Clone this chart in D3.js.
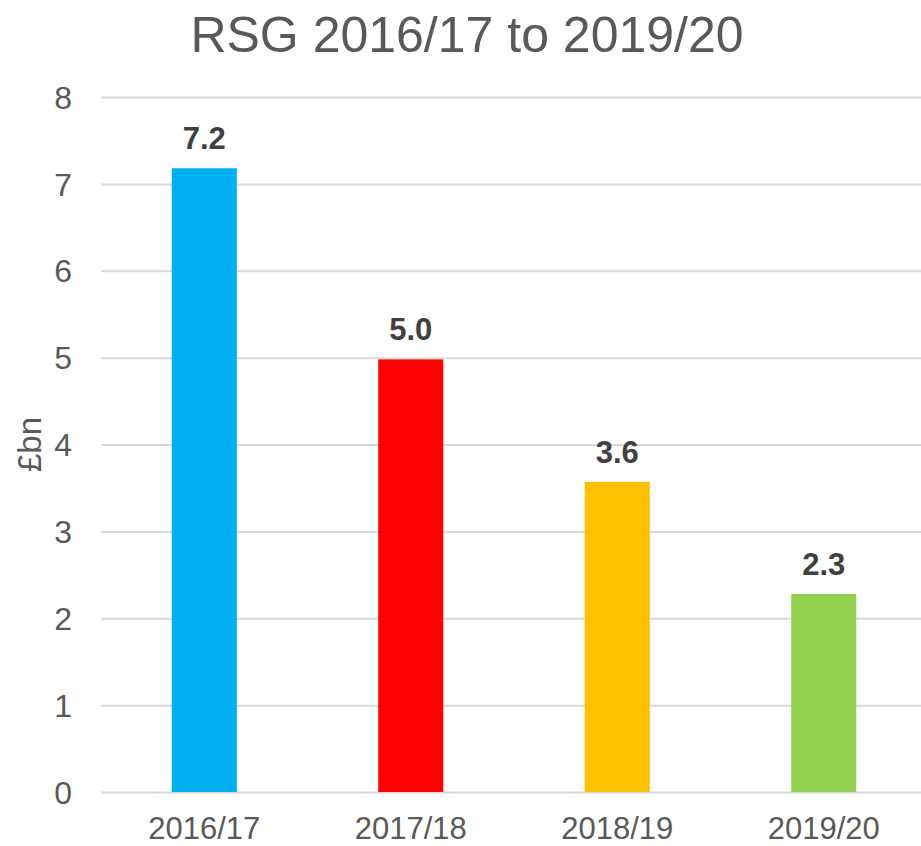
<!DOCTYPE html>
<html>
<head>
<meta charset="utf-8">
<script src="https://cdn.jsdelivr.net/npm/d3@7"></script>
<style>
  body { margin: 0; background: #fff; }
  svg text { font-family: "Liberation Sans", Arial, sans-serif; }
</style>
</head>
<body>
<div id="chart"></div>
<script>
var width = 921, height = 846;

// data
var years = ["2016/17", "2017/18", "2018/19", "2019/20"];
var rsg = [7.18, 4.98, 3.57, 2.28];
var labels = ["7.2", "5.0", "3.6", "2.3"];
var colours = ["#00B0F0", "#FF0000", "#FFC000", "#92D050"];
var yTicks = [0, 1, 2, 3, 4, 5, 6, 7, 8];

var svg = d3.select("#chart").append("svg")
    .attr("width", width).attr("height", height);

// plot area (right edge runs a bit past the picture like the original)
var plotLeft = 101, plotRight = 927, plotTop = 97, plotBottom = 792;

var x = d3.scaleBand()
    .domain(years)
    .range([plotLeft, plotRight])
    .paddingInner(0.685)
    .paddingOuter(0.3425);

var y = d3.scaleLinear()
    .domain([0, 8])
    .range([plotBottom, plotTop]);

// title
svg.append("text")
    .attr("x", 467).attr("y", 52)
    .attr("text-anchor", "middle")
    .style("font-size", "50px")
    .style("fill", "#595959")
    .text("RSG 2016/17 to 2019/20");

// gridlines + y tick labels
var yAxis = d3.axisLeft(y)
    .tickValues(yTicks)
    .tickSize(-(plotRight - plotLeft))
    .tickPadding(29)
    .tickFormat(d3.format("d"));

var gy = svg.append("g")
    .attr("transform", "translate(" + plotLeft + ",0)")
    .call(yAxis);
gy.select(".domain").remove();
gy.selectAll(".tick line").attr("stroke", "#D9D9D9").attr("stroke-width", 2);
gy.selectAll(".tick text")
    .style("font-size", "32px")
    .style("fill", "#595959")
    .attr("dy", "0.35em");

// y axis title
svg.append("text")
    .attr("transform", "translate(41," + ((plotTop + plotBottom) / 2) + ") rotate(-90)")
    .attr("text-anchor", "middle")
    .style("font-size", "33px")
    .style("fill", "#595959")
    .text("£bn");

// bars
svg.append("g").selectAll("rect")
    .data(years)
    .enter().append("rect")
    .attr("x", function(d) { return x(d); })
    .attr("y", function(d, i) { return y(rsg[i]); })
    .attr("width", x.bandwidth())
    .attr("height", function(d, i) { return y(0) - y(rsg[i]); })
    .style("fill", function(d, i) { return colours[i]; });

// value labels
svg.append("g").selectAll("text")
    .data(years)
    .enter().append("text")
    .attr("x", function(d) { return x(d) + x.bandwidth() / 2; })
    .attr("y", function(d, i) { return y(rsg[i]) - 19; })
    .attr("text-anchor", "middle")
    .style("font-size", "31px")
    .style("font-weight", "bold")
    .style("fill", "#404040")
    .text(function(d, i) { return labels[i]; });

// x axis labels
var xAxis = d3.axisBottom(x).tickSize(0).tickPadding(0);
var gx = svg.append("g")
    .attr("transform", "translate(0," + plotBottom + ")")
    .call(xAxis);
gx.select(".domain").remove();
gx.selectAll(".tick text")
    .attr("y", 47).attr("dy", 0)
    .style("font-size", "31px")
    .style("fill", "#595959");
</script>
</body>
</html>
